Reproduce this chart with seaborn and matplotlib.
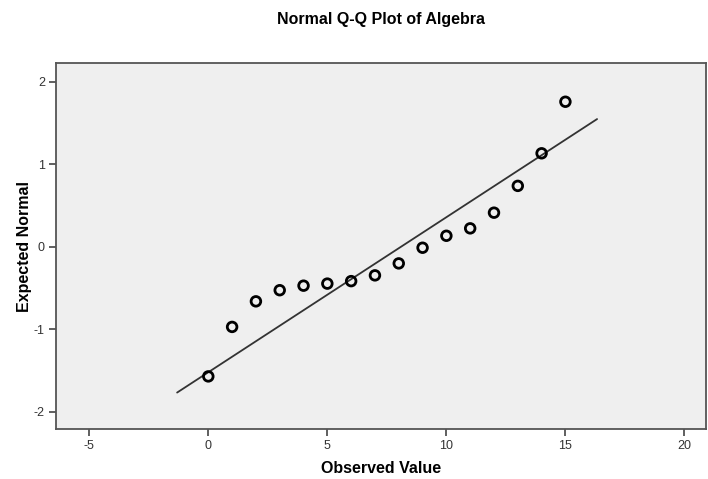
import matplotlib
matplotlib.use("Agg")
import matplotlib.pyplot as plt
import matplotlib.ticker as mticker
import seaborn as sns
import pandas as pd

observed = [0, 1, 2, 3, 4, 5, 6, 7, 8, 9, 10, 11, 12, 13, 14, 15]
expected = [-1.57, -0.97, -0.66, -0.525, -0.47, -0.445, -0.415, -0.345, -0.20,
            -0.01, 0.135, 0.225, 0.415, 0.74, 1.135, 1.76]
line_x = [-1.31, 16.33]
line_y = [-1.766, 1.55]
x_ticks = [-5, 0, 5, 10, 15, 20]
y_ticks = [-2, -1, 0, 1, 2]

sns.set_theme(style="white")
plt.rcParams['font.family'] = ['Liberation Sans', 'DejaVu Sans']
plt.rcParams['axes.unicode_minus'] = False
plt.rcParams['text.color'] = 'black'
plt.rcParams['axes.labelcolor'] = 'black'

df = pd.DataFrame({"Observed Value": observed, "Expected Normal": expected})

fig = plt.figure(figsize=(7.08, 4.79), dpi=100)
ax = fig.add_axes([0.079, 0.104, 0.918, 0.764])
ax.set_facecolor("#efefef")

sns.lineplot(x=line_x, y=line_y, ax=ax, color="#333333", linewidth=1.3)
sns.scatterplot(data=df, x="Observed Value", y="Expected Normal", ax=ax,
                marker="o", s=48, facecolor="none", edgecolor="black",
                linewidth=2.0, zorder=3)

ax.set_xlim(-6.4, 20.9)
ax.set_ylim(-2.21, 2.227)
ax.set_xticks(x_ticks)
ax.set_yticks(y_ticks)
ax.xaxis.set_major_formatter(mticker.FuncFormatter(lambda v, p: f"{v:g}"))
ax.yaxis.set_major_formatter(mticker.FuncFormatter(lambda v, p: f"{v:g}"))
ax.tick_params(axis="both", direction="out", length=5, width=1.2,
               color="#444444", labelsize=9, labelcolor="#333333", pad=3,
               bottom=True, left=True)
for side, sp in ax.spines.items():
    sp.set_color("#555555")
    sp.set_linewidth(1.3)

ax.set_xlabel("Observed Value", fontsize=11.5, fontweight="bold", labelpad=6)
ax.set_ylabel("Expected Normal", fontsize=11.5, fontweight="bold", labelpad=1)
fig.suptitle("Normal Q-Q Plot of Algebra", x=0.538, y=0.975, fontsize=11.5,
             fontweight="bold")

fig.savefig("out.png", dpi=100)
